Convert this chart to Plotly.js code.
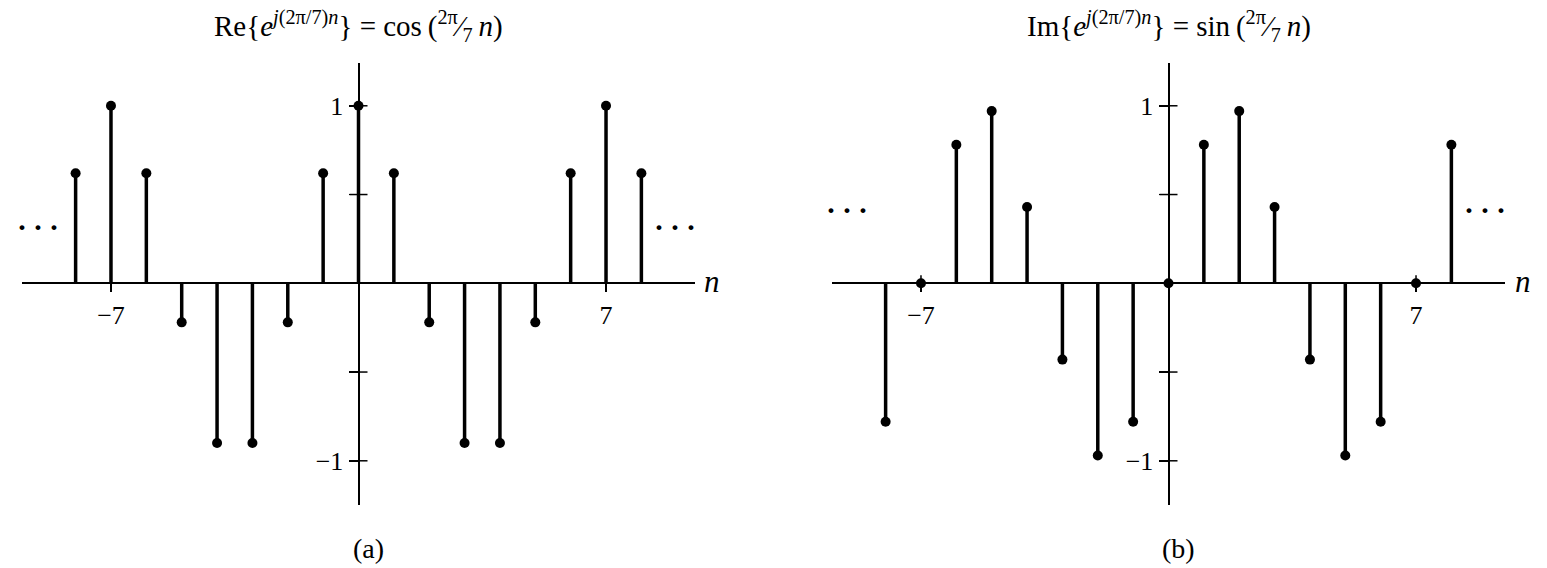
<!DOCTYPE html>
<html>
<head>
<meta charset="utf-8">
<script src="https://cdn.plot.ly/plotly-3.0.1.min.js"></script>
<style>html,body{margin:0;padding:0;background:#fff;}#chart{width:1547px;height:568px;}</style>
</head>
<body>
<div id="chart"></div>
<script>
// ---- data ----
var nValues = [-8,-7,-6,-5,-4,-3,-2,-1,0,1,2,3,4,5,6,7,8];
var cosValues = [0.62,1.00,0.62,-0.22,-0.90,-0.90,-0.22,0.62,1.00,0.62,-0.22,-0.90,-0.90,-0.22,0.62,1.00,0.62];
var sinValues = [-0.78,0.00,0.78,0.97,0.43,-0.43,-0.97,-0.78,0.00,0.78,0.97,0.43,-0.43,-0.97,-0.78,0.00,0.78];
var xTickVals = [-7, 7];
var xTickText = ['\u22127', '7'];
var yTickVals = [-1, -0.5, 0.5, 1];
var yTickText = ['\u22121', '', '', '1'];
var titleA = 'Re{<i>e</i><sup><i>j</i>(2\u03c0/7)<i>n</i></sup>} = cos\u2009(<sup>2\u03c0</sup>\u2044<sub>7</sub>\u2009<i>n</i>)';
var titleB = 'Im{<i>e</i><sup><i>j</i>(2\u03c0/7)<i>n</i></sup>} = sin\u2009(<sup>2\u03c0</sup>\u2044<sub>7</sub>\u2009<i>n</i>)';
var panelLabels = ['(a)', '(b)'];

var W = 1547, H = 568;
var FONT = 'Liberation Serif, Times New Roman, serif';

function stems(xs, ys, xa, ya) {
  var sx = [], sy = [];
  for (var i = 0; i < xs.length; i++) { sx.push(xs[i], xs[i], null); sy.push(0, ys[i], null); }
  return [
    {x: sx, y: sy, xaxis: xa, yaxis: ya, mode: 'lines', line: {color: '#000', width: 3.5}, hoverinfo: 'skip', showlegend: false},
    {x: xs, y: ys, xaxis: xa, yaxis: ya, mode: 'markers', marker: {color: '#000', size: 10}, showlegend: false}
  ];
}

var data = stems(nValues, cosValues, 'x', 'y').concat(stems(nValues, sinValues, 'x2', 'y2'));

function px(p) { return p / W; }
function py(p) { return 1 - p / H; }

var yDomain = [py(505), py(63)];
var yRange = [-1.249, 1.241];

function xAxis(l, r, zeroPx) {
  var c = zeroPx, s = 35.36;
  return {
    domain: [px(l), px(r)], range: [(l - c) / s, (r - c) / s],
    anchor: 'free', position: py(283.3),
    showline: true, linewidth: 2, linecolor: '#000',
    showgrid: false, zeroline: false,
    tickmode: 'array', tickvals: xTickVals, ticktext: xTickText,
    ticks: 'outside', ticklen: 8, tickwidth: 1.5, tickcolor: '#000',
    tickfont: {family: FONT, size: 26, color: '#000'}, fixedrange: true
  };
}
function yAxis(zeroPx) {
  return {
    domain: yDomain, range: yRange,
    anchor: 'free', position: px(zeroPx),
    showline: true, linewidth: 2, linecolor: '#000',
    showgrid: false, zeroline: false,
    tickmode: 'array', tickvals: yTickVals, ticktext: yTickText,
    ticks: 'outside', ticklen: 9, tickwidth: 1.5, tickcolor: '#000',
    tickfont: {family: FONT, size: 26, color: '#000'}, fixedrange: true
  };
}

var shapes = [];
[['x','y'],['x2','y2']].forEach(function (ax) {
  xTickVals.forEach(function (v) {
    shapes.push({type: 'line', xref: ax[0], yref: ax[1], ysizemode: 'pixel', yanchor: 0, x0: v, x1: v, y0: -8, y1: 8, line: {color: '#000', width: 1.5}});
  });
  yTickVals.forEach(function (v) {
    shapes.push({type: 'line', xref: ax[0], yref: ax[1], xsizemode: 'pixel', xanchor: 0, y0: v, y1: v, x0: -9, x1: 9, line: {color: '#000', width: 1.5}});
  });
});

var dots = '<b>\u00b7\u2009\u00b7\u2009\u00b7</b>';
function ann(text, x, y, size, extra) {
  var a = {text: text, xref: 'paper', yref: 'paper', x: px(x), y: py(y), xanchor: 'center', yanchor: 'middle', showarrow: false, font: {family: FONT, size: size, color: '#000'}};
  for (var k in extra) a[k] = extra[k];
  return a;
}

var annotations = [
  ann(titleA, 358.5, 26, 29),
  ann(titleB, 1168.5, 26, 29),
  ann(panelLabels[0], 368, 548, 28),
  ann(panelLabels[1], 1178, 548, 28),
  ann('<i>n</i>', 712, 281, 31),
  ann('<i>n</i>', 1523, 281, 31),
  ann(dots, 38, 226, 30),
  ann(dots, 675, 226, 30),
  ann(dots, 847, 209, 30),
  ann(dots, 1485, 209, 30)
];

var layout = {
  width: W, height: H,
  margin: {l: 0, r: 0, t: 0, b: 0},
  paper_bgcolor: '#fff', plot_bgcolor: 'rgba(0,0,0,0)',
  showlegend: false,
  xaxis: xAxis(22, 695, 358.5),
  yaxis: yAxis(358.5),
  xaxis2: xAxis(832, 1505, 1168.5),
  yaxis2: yAxis(1168.5),
  shapes: shapes,
  annotations: annotations
};

Plotly.newPlot('chart', data, layout, {displayModeBar: false, staticPlot: true});
</script>
</body>
</html>
